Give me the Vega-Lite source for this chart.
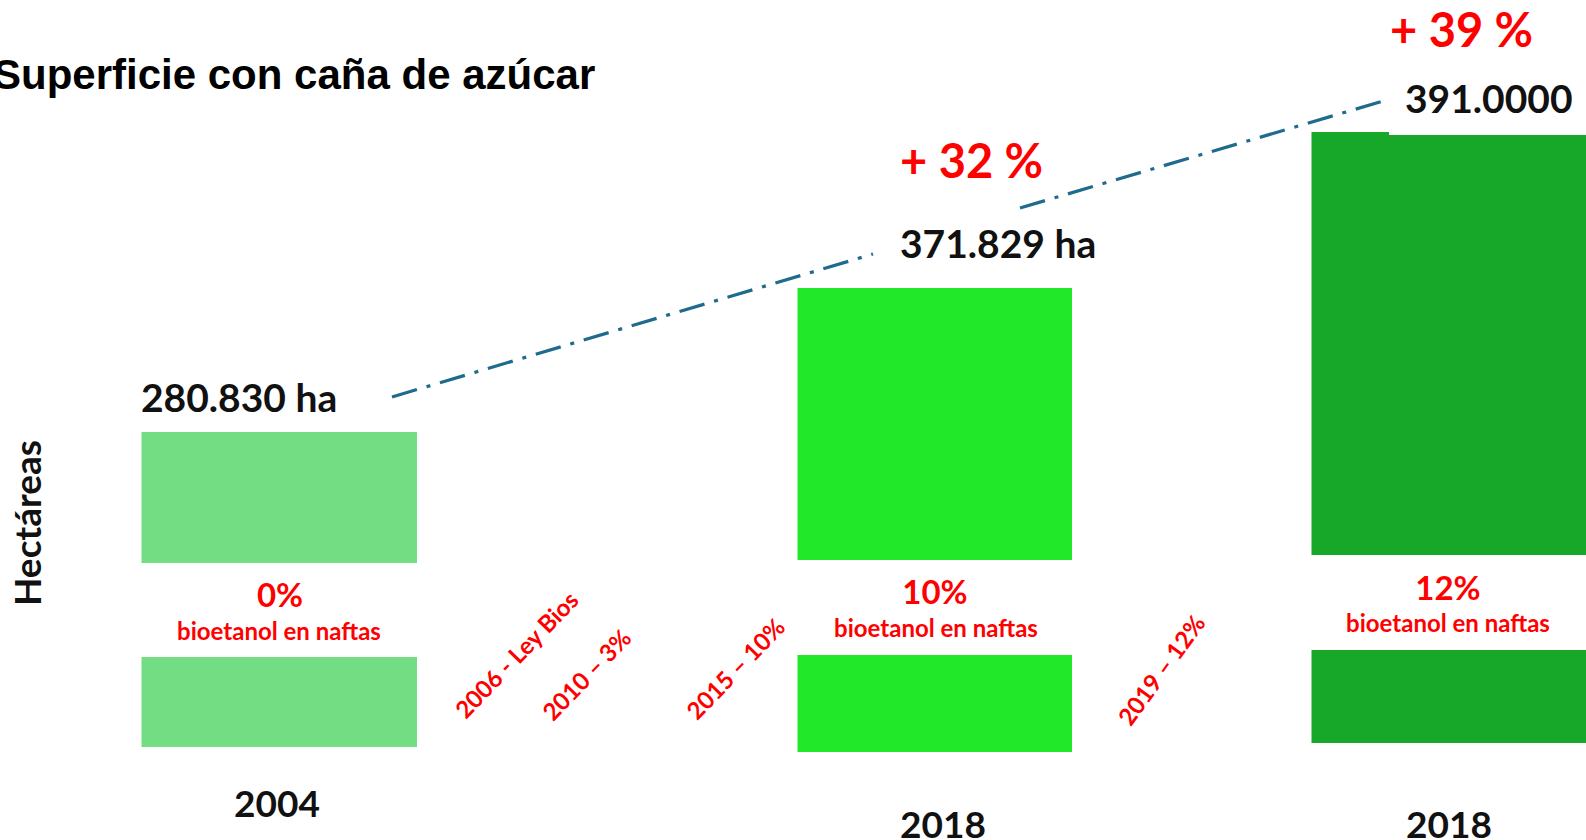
{
  "$schema": "https://vega.github.io/schema/vega-lite/v6.json",
  "width": 1586,
  "height": 840,
  "padding": 0,
  "autosize": {"type": "none"},
  "background": "white",
  "config": {"view": {"stroke": null}},
  "datasets": {
    "barras": [
      {"año": "2004", "serie": "2004", "tramo": "superior", "x0": 141.5, "x1": 417, "y0": 432, "y1": 563},
      {"año": "2004", "serie": "2004", "tramo": "inferior", "x0": 141.5, "x1": 417, "y0": 657, "y1": 747},
      {"año": "2018", "serie": "2018a", "tramo": "superior", "x0": 797.5, "x1": 1072, "y0": 288, "y1": 560},
      {"año": "2018", "serie": "2018a", "tramo": "inferior", "x0": 797.5, "x1": 1072, "y0": 655, "y1": 752},
      {"año": "2018", "serie": "2018b", "tramo": "superior", "x0": 1311.5, "x1": 1590, "y0": 135, "y1": 555},
      {"año": "2018", "serie": "2018b", "tramo": "borde", "x0": 1311.5, "x1": 1389, "y0": 132, "y1": 135},
      {"año": "2018", "serie": "2018b", "tramo": "inferior", "x0": 1311.5, "x1": 1590, "y0": 650, "y1": 743}
    ],
    "tendencia": [
      {"tramo": 1, "x0": 392, "y0": 397, "x1": 873, "y1": 254},
      {"tramo": 2, "x0": 1020, "y0": 208, "x1": 1390, "y1": 99}
    ],
    "textos": [
      {"clase": "titulo", "texto": "Superficie con caña de azúcar", "x": -7, "y": 89},
      {"clase": "valor", "texto": "280.830 ha", "x": 141, "y": 412},
      {"clase": "valor", "texto": "371.829 ha", "x": 900, "y": 258},
      {"clase": "valor", "texto": "391.0000", "x": 1405, "y": 113},
      {"clase": "variacion", "texto": "+ 32 %", "x": 900, "y": 178},
      {"clase": "variacion", "texto": "+ 39 %", "x": 1390, "y": 47},
      {"clase": "porcentaje", "texto": "0%", "x": 280, "y": 607},
      {"clase": "porcentaje", "texto": "10%", "x": 935, "y": 604},
      {"clase": "porcentaje", "texto": "12%", "x": 1448, "y": 600},
      {"clase": "detalle", "texto": "bioetanol en naftas", "x": 279, "y": 640},
      {"clase": "detalle", "texto": "bioetanol en naftas", "x": 936, "y": 637},
      {"clase": "detalle", "texto": "bioetanol en naftas", "x": 1448, "y": 632},
      {"clase": "hito", "texto": "2006 - Ley Bios", "x": 518, "y": 656},
      {"clase": "hito", "texto": "2010 – 3%", "x": 588, "y": 676},
      {"clase": "hito", "texto": "2015 – 10%", "x": 737, "y": 670},
      {"clase": "hito2", "texto": "2019 – 12%", "x": 1163, "y": 671},
      {"clase": "año", "texto": "2004", "x": 277, "y": 817},
      {"clase": "año", "texto": "2018", "x": 943, "y": 838},
      {"clase": "año", "texto": "2018", "x": 1449, "y": 838},
      {"clase": "eje", "texto": "Hectáreas", "x": 30, "y": 523}
    ]
  },
  "layer": [
    {
      "data": {"name": "barras"},
      "mark": {"type": "rect"},
      "encoding": {
        "x": {"field": "x0", "type": "quantitative", "scale": {"domain": [0, 1586], "nice": false, "zero": false}, "axis": null},
        "x2": {"field": "x1"},
        "y": {"field": "y0", "type": "quantitative", "scale": {"domain": [0, 840], "nice": false, "zero": false, "reverse": true}, "axis": null},
        "y2": {"field": "y1"},
        "color": {"field": "serie", "type": "nominal", "scale": {"domain": ["2004", "2018a", "2018b"], "range": ["#72DD82", "#22E82A", "#17A829"]}, "legend": null}
      }
    },
    {
      "data": {"name": "tendencia"},
      "mark": {"type": "rule", "color": "#1F6B8D", "strokeWidth": 3.2, "strokeDash": [26, 10, 4, 10]},
      "encoding": {
        "x": {"field": "x0", "type": "quantitative", "scale": {"domain": [0, 1586], "nice": false, "zero": false}, "axis": null},
        "x2": {"field": "x1"},
        "y": {"field": "y0", "type": "quantitative", "scale": {"domain": [0, 840], "nice": false, "zero": false, "reverse": true}, "axis": null},
        "y2": {"field": "y1"}
      }
    },
    {
      "data": {"name": "textos"},
      "transform": [{"filter": "datum.clase === 'titulo'"}],
      "mark": {"type": "text", "font": "Liberation Sans", "fontWeight": "bold", "fontSize": 42, "align": "left", "baseline": "alphabetic", "color": "#000000"},
      "encoding": {
        "x": {"field": "x", "type": "quantitative", "scale": {"domain": [0, 1586], "nice": false, "zero": false}, "axis": null},
        "y": {"field": "y", "type": "quantitative", "scale": {"domain": [0, 840], "nice": false, "zero": false, "reverse": true}, "axis": null},
        "text": {"field": "texto"}
      }
    },
    {
      "data": {"name": "textos"},
      "transform": [{"filter": "datum.clase === 'valor'"}],
      "mark": {"type": "text", "font": "Lato", "fontWeight": "bold", "fontSize": 39, "align": "left", "baseline": "alphabetic", "color": "#111111"},
      "encoding": {
        "x": {"field": "x", "type": "quantitative", "scale": {"domain": [0, 1586], "nice": false, "zero": false}, "axis": null},
        "y": {"field": "y", "type": "quantitative", "scale": {"domain": [0, 840], "nice": false, "zero": false, "reverse": true}, "axis": null},
        "text": {"field": "texto"}
      }
    },
    {
      "data": {"name": "textos"},
      "transform": [{"filter": "datum.clase === 'variacion'"}],
      "mark": {"type": "text", "font": "Lato", "fontWeight": "bold", "fontSize": 47, "align": "left", "baseline": "alphabetic", "color": "#FF0000"},
      "encoding": {
        "x": {"field": "x", "type": "quantitative", "scale": {"domain": [0, 1586], "nice": false, "zero": false}, "axis": null},
        "y": {"field": "y", "type": "quantitative", "scale": {"domain": [0, 840], "nice": false, "zero": false, "reverse": true}, "axis": null},
        "text": {"field": "texto"}
      }
    },
    {
      "data": {"name": "textos"},
      "transform": [{"filter": "datum.clase === 'porcentaje'"}],
      "mark": {"type": "text", "font": "Lato", "fontWeight": "bold", "fontSize": 33, "align": "center", "baseline": "alphabetic", "color": "#FF0000"},
      "encoding": {
        "x": {"field": "x", "type": "quantitative", "scale": {"domain": [0, 1586], "nice": false, "zero": false}, "axis": null},
        "y": {"field": "y", "type": "quantitative", "scale": {"domain": [0, 840], "nice": false, "zero": false, "reverse": true}, "axis": null},
        "text": {"field": "texto"}
      }
    },
    {
      "data": {"name": "textos"},
      "transform": [{"filter": "datum.clase === 'detalle'"}],
      "mark": {"type": "text", "font": "Lato", "fontWeight": "bold", "fontSize": 24, "align": "center", "baseline": "alphabetic", "color": "#FF0000"},
      "encoding": {
        "x": {"field": "x", "type": "quantitative", "scale": {"domain": [0, 1586], "nice": false, "zero": false}, "axis": null},
        "y": {"field": "y", "type": "quantitative", "scale": {"domain": [0, 840], "nice": false, "zero": false, "reverse": true}, "axis": null},
        "text": {"field": "texto"}
      }
    },
    {
      "data": {"name": "textos"},
      "transform": [{"filter": "datum.clase === 'hito'"}],
      "mark": {"type": "text", "font": "Lato", "fontWeight": "bold", "fontSize": 24, "align": "center", "baseline": "middle", "angle": 314, "color": "#FF0000"},
      "encoding": {
        "x": {"field": "x", "type": "quantitative", "scale": {"domain": [0, 1586], "nice": false, "zero": false}, "axis": null},
        "y": {"field": "y", "type": "quantitative", "scale": {"domain": [0, 840], "nice": false, "zero": false, "reverse": true}, "axis": null},
        "text": {"field": "texto"}
      }
    },
    {
      "data": {"name": "textos"},
      "transform": [{"filter": "datum.clase === 'hito2'"}],
      "mark": {"type": "text", "font": "Lato", "fontWeight": "bold", "fontSize": 24, "align": "center", "baseline": "middle", "angle": 306, "color": "#FF0000"},
      "encoding": {
        "x": {"field": "x", "type": "quantitative", "scale": {"domain": [0, 1586], "nice": false, "zero": false}, "axis": null},
        "y": {"field": "y", "type": "quantitative", "scale": {"domain": [0, 840], "nice": false, "zero": false, "reverse": true}, "axis": null},
        "text": {"field": "texto"}
      }
    },
    {
      "data": {"name": "textos"},
      "transform": [{"filter": "datum.clase === 'año'"}],
      "mark": {"type": "text", "font": "Lato", "fontWeight": "bold", "fontSize": 37, "align": "center", "baseline": "alphabetic", "color": "#111111"},
      "encoding": {
        "x": {"field": "x", "type": "quantitative", "scale": {"domain": [0, 1586], "nice": false, "zero": false}, "axis": null},
        "y": {"field": "y", "type": "quantitative", "scale": {"domain": [0, 840], "nice": false, "zero": false, "reverse": true}, "axis": null},
        "text": {"field": "texto"}
      }
    },
    {
      "data": {"name": "textos"},
      "transform": [{"filter": "datum.clase === 'eje'"}],
      "mark": {"type": "text", "font": "Lato", "fontWeight": "bold", "fontSize": 37, "align": "center", "baseline": "middle", "angle": 270, "color": "#111111"},
      "encoding": {
        "x": {"field": "x", "type": "quantitative", "scale": {"domain": [0, 1586], "nice": false, "zero": false}, "axis": null},
        "y": {"field": "y", "type": "quantitative", "scale": {"domain": [0, 840], "nice": false, "zero": false, "reverse": true}, "axis": null},
        "text": {"field": "texto"}
      }
    }
  ]
}
